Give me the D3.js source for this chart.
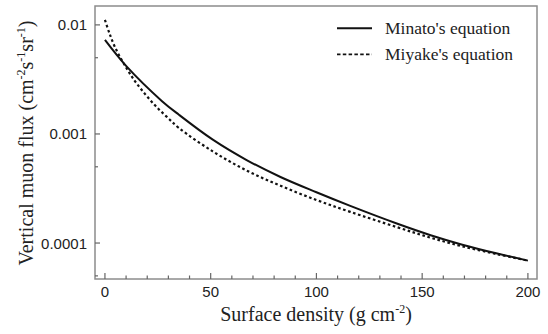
<!DOCTYPE html>
<html>
<head>
<meta charset="utf-8">
<script src="https://cdn.jsdelivr.net/npm/d3@7"></script>
<style>
  body { margin: 0; background: #fff; }
  .tick-label { font-family: "Liberation Sans", Arial, sans-serif; font-size: 15px; fill: #222; }
  .title { font-family: "Liberation Serif", "Times New Roman", serif; fill: #222; }
</style>
</head>
<body>
<div id="chart"></div>
<script>
// surface density (g cm-2) and flux readings
var minatoX = [0, 10, 27, 35, 51, 67, 83, 100, 116, 138, 154, 169, 185, 200];
var minatoY = [7.28e-3, 4.21e-3, 2.0e-3, 1.5e-3, 8.87e-4, 5.77e-4, 4.03e-4, 2.92e-4, 2.19e-4, 1.51e-4, 1.18e-4, 9.66e-5, 8.05e-5, 6.9e-5];

var miyakeX = [0, 2, 5, 10, 14, 19, 24, 29, 35, 51, 67, 83, 100, 116, 138, 154, 169, 185, 200];
var miyakeY = [1.11e-2, 8.51e-3, 6.1e-3, 4.07e-3, 3.09e-3, 2.32e-3, 1.8e-3, 1.45e-3, 1.135e-3, 6.92e-4, 4.62e-4, 3.35e-4, 2.48e-4, 1.93e-4, 1.4e-4, 1.12e-4, 9.33e-5, 7.94e-5, 6.9e-5];

var xTicks = [0, 50, 100, 150, 200];
var yTicks = [0.01, 0.001, 0.0001];
var yTickLabels = ["0.01", "0.001", "0.0001"];
var yMinor = [5e-3, 5e-4, 5e-5];
var legendNames = ["Minato's equation", "Miyake's equation"];

var width = 548, height = 334;
var plotL = 95, plotR = 537, plotT = 6, plotB = 279;

var svg = d3.select('#chart').append('svg')
  .attr('width', width)
  .attr('height', height);

var x = d3.scaleLinear().domain([-4.7, 204.3]).range([plotL, plotR]);
var y = d3.scaleLog().domain([4.68e-5, 0.0149]).range([plotB, plotT]);

// frame
svg.append('rect')
  .attr('x', plotL).attr('y', plotT)
  .attr('width', plotR - plotL).attr('height', plotB - plotT)
  .attr('fill', 'none').attr('stroke', '#8c8c8c').attr('stroke-width', 1.5);

// x ticks (inward)
var minorX = d3.range(0, 201, 10);
svg.selectAll('.xminor').data(minorX).enter().append('line')
  .attr('x1', d => x(d)).attr('x2', d => x(d))
  .attr('y1', plotB).attr('y2', d => plotB - (d % 50 == 0 ? 6 : 3.5))
  .attr('stroke', '#666').attr('stroke-width', 1.2);

svg.selectAll('.xlab').data(xTicks).enter().append('text')
  .attr('class', 'tick-label')
  .attr('x', d => x(d)).attr('y', 297)
  .attr('text-anchor', 'middle')
  .text(d => d);

// y ticks (inward)
svg.selectAll('.ymaj').data(yTicks).enter().append('line')
  .attr('x1', plotL).attr('x2', plotL + 5)
  .attr('y1', d => y(d)).attr('y2', d => y(d))
  .attr('stroke', '#666').attr('stroke-width', 1.2);
svg.selectAll('.ymin').data(yMinor).enter().append('line')
  .attr('x1', plotL).attr('x2', plotL + 3)
  .attr('y1', d => y(d)).attr('y2', d => y(d))
  .attr('stroke', '#666').attr('stroke-width', 1.2);

svg.selectAll('.ylab').data(yTicks).enter().append('text')
  .attr('class', 'tick-label')
  .attr('x', 87).attr('y', d => y(d) + 5.5)
  .attr('text-anchor', 'end')
  .text((d, i) => yTickLabels[i]);

// curves
var line = d3.line()
  .x(d => x(d[0]))
  .y(d => y(d[1]))
  .curve(d3.curveCatmullRom.alpha(0.5));

svg.append('path')
  .datum(d3.zip(minatoX, minatoY))
  .attr('d', line)
  .attr('fill', 'none').attr('stroke', '#111').attr('stroke-width', 2);

svg.append('path')
  .datum(d3.zip(miyakeX, miyakeY))
  .attr('d', line)
  .attr('fill', 'none').attr('stroke', '#111').attr('stroke-width', 2.2)
  .attr('stroke-dasharray', '2.6,2.6');

// legend
var leg = svg.append('g');
legendNames.forEach(function(name, i) {
  var ly = 28.3 + i * 26;
  leg.append('line')
    .attr('x1', 337).attr('x2', 372)
    .attr('y1', ly).attr('y2', ly)
    .attr('stroke', '#111').attr('stroke-width', i == 0 ? 2 : 1.8)
    .attr('stroke-dasharray', i == 0 ? null : '3.5,2.3');
  leg.append('text')
    .attr('class', 'title')
    .attr('x', 385).attr('y', ly + 5.5)
    .style('font-size', '17.5px')
    .text(name);
});

// axis titles
var xt = svg.append('text')
  .attr('class', 'title')
  .attr('x', 316).attr('y', 321)
  .attr('text-anchor', 'middle')
  .style('font-size', '20px');
xt.append('tspan').text('Surface density (g cm');
xt.append('tspan').attr('dy', -8).style('font-size', '12px').text('-2');
xt.append('tspan').attr('dy', 8).text(')');

var yt = svg.append('text')
  .attr('class', 'title')
  .attr('transform', 'translate(33,143) rotate(-90)')
  .attr('text-anchor', 'middle')
  .style('font-size', '20px');
yt.append('tspan').text('Vertical muon flux (cm');
yt.append('tspan').attr('dy', -8).style('font-size', '12px').text('-2');
yt.append('tspan').attr('dy', 8).text('s');
yt.append('tspan').attr('dy', -8).style('font-size', '12px').text('-1');
yt.append('tspan').attr('dy', 8).text('sr');
yt.append('tspan').attr('dy', -8).style('font-size', '12px').text('-1');
yt.append('tspan').attr('dy', 8).text(')');
</script>
</body>
</html>
